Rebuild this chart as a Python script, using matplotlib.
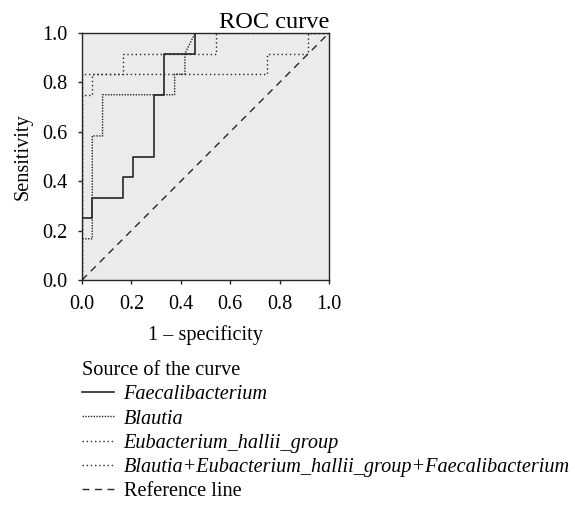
import matplotlib
matplotlib.use("Agg")
import matplotlib.pyplot as plt

# ROC curve points (1 - specificity, sensitivity)
faecali_x = [0, 0, 1/24, 1/24, 4/24, 4/24, 5/24, 5/24, 7/24, 7/24, 8/24, 8/24, 11/24, 11/24, 1]
faecali_y = [0, 3/12, 3/12, 4/12, 4/12, 5/12, 5/12, 6/12, 6/12, 9/12, 9/12, 11/12, 11/12, 1, 1]

blautia_x = [0, 0, 1/24, 1/24, 2/24, 2/24, 9/24, 9/24, 10/24, 10/24, 11/24, 1]
blautia_y = [0, 2/12, 2/12, 7/12, 7/12, 9/12, 9/12, 10/12, 10/12, 11/12, 1, 1]

eubac_x = [0, 0, 18/24, 18/24, 22/24, 22/24, 1]
eubac_y = [0, 10/12, 10/12, 11/12, 11/12, 1, 1]

combo_x = [0, 0, 1/24, 1/24, 4/24, 4/24, 13/24, 13/24, 1]
combo_y = [0, 9/12, 9/12, 10/12, 10/12, 11/12, 11/12, 1, 1]

ref_x = [0, 1]
ref_y = [0, 1]

labels = ["Faecalibacterium", "Blautia", "Eubacterium_hallii_group",
          "Blautia+Eubacterium_hallii_group+Faecalibacterium", "Reference line"]
ticks = [0.0, 0.2, 0.4, 0.6, 0.8, 1.0]

plt.rcParams['font.family'] = ['Liberation Serif', 'DejaVu Serif']
plt.rcParams['font.size'] = 14.6

W, H = 575, 505
fig = plt.figure(figsize=(W/100, H/100), dpi=100)
ax = fig.add_axes([82/W, (H-280)/H, 247/W, 247/H])
ax.set_facecolor('#ebebeb')

ink = '#262626'
h1, = ax.plot(faecali_x, faecali_y, color=ink, lw=1.2)
h2, = ax.plot(blautia_x, blautia_y, color=ink, lw=1.0, ls=(0, (1, 1)))
h3, = ax.plot(eubac_x, eubac_y, color=ink, lw=1.0, ls=(0, (1, 2)))
h4, = ax.plot(combo_x, combo_y, color=ink, lw=1.0, ls=(0, (1, 2)))
h5, = ax.plot(ref_x, ref_y, color=ink, lw=1.0, ls=(0, (5, 4)))

ax.set_xlim(0, 1)
ax.set_ylim(0, 1)
ax.set_xticks(ticks)
ax.set_yticks(ticks)
ax.set_xticklabels([f"{t:.1f}" for t in ticks])
ax.set_yticklabels([f"{t:.1f}" for t in ticks])
ax.tick_params(direction='out', length=3, width=1, color=ink, pad=7.5)
for s in ax.spines.values():
    s.set_color(ink)
    s.set_linewidth(1.0)

ax.set_title("ROC curve", loc='right', pad=3)
ax.set_xlabel("1 \u2013 specificity", labelpad=8)
ax.set_ylabel("Sensitivity", labelpad=7)

leg = ax.legend([h1, h2, h3, h4, h5], labels, loc='upper left',
                bbox_to_anchor=(82/W, (H-361)/H), bbox_transform=fig.transFigure,
                frameon=False, title="Source of the curve", alignment='left',
                borderpad=0, borderaxespad=0, handlelength=1.6, handletextpad=0.45,
                labelspacing=0.25)
for t in leg.get_texts()[:4]:
    t.set_style('italic')

fig.savefig("out.png", dpi=100)
